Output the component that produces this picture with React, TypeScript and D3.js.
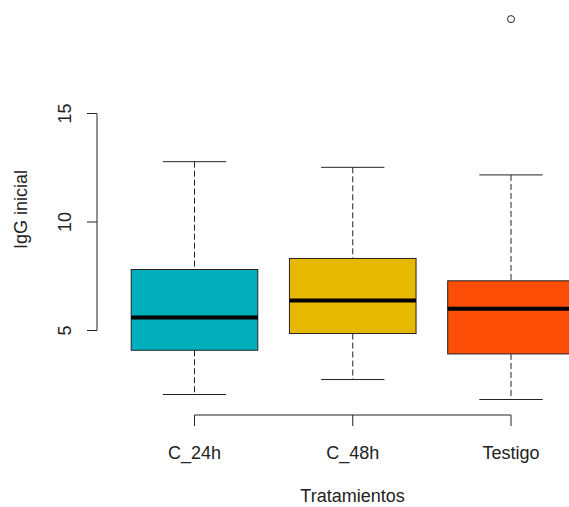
import React from "react";
import * as d3 from "d3";

const categories = ["C_24h", "C_48h", "Testigo"];
const lowerWhisker = [2.05, 2.74, 1.82];
const q1 = [4.09, 4.86, 3.92];
const median = [5.6, 6.38, 6.0];
const q3 = [7.81, 8.32, 7.29];
const upperWhisker = [12.78, 12.52, 12.17];
const outliers: { cat: string; value: number }[] = [{ cat: "Testigo", value: 19.35 }];
const colors = ["#00AFBB", "#E7B800", "#FC4E07"];
const yTicks = [5, 10, 15];

const W = 569;
const H = 507;

export default function App() {
  const x = d3.scaleLinear().domain([1, 3]).range([194.5, 511]);
  const y = d3.scaleLinear().domain([5, 15]).range([330.5, 113.5]);
  const step = x(2) - x(1);
  const boxW = step * 0.8;
  const capW = boxW / 2;
  const font = "Liberation Sans, Arial, sans-serif";
  const ink = "#222";
  const fs = 18;

  return (
    <svg width={W} height={H} style={{ position: "absolute", left: 0, top: 0, background: "#fff" }}>
      {/* Y axis */}
      <line x1={97} x2={97} y1={y(15)} y2={y(5)} stroke={ink} strokeWidth={1} />
      {yTicks.map((t) => (
        <g key={t}>
          <line x1={87} x2={97} y1={y(t)} y2={y(t)} stroke={ink} strokeWidth={1} />
          <text
            transform={`translate(${71},${y(t)}) rotate(-90)`}
            textAnchor="middle"
            fontFamily={font}
            fontSize={fs}
            fill={ink}
          >
            {t}
          </text>
        </g>
      ))}
      <text
        transform={`translate(${27},${209.5}) rotate(-90)`}
        textAnchor="middle"
        fontFamily={font}
        fontSize={fs}
        fill={ink}
      >
        IgG inicial
      </text>

      {/* X axis */}
      <line x1={x(1)} x2={x(3)} y1={415} y2={415} stroke={ink} strokeWidth={1} />
      {categories.map((c, i) => (
        <g key={c}>
          <line x1={x(i + 1)} x2={x(i + 1)} y1={415} y2={426} stroke={ink} strokeWidth={1} />
          <text x={x(i + 1)} y={458.5} textAnchor="middle" fontFamily={font} fontSize={fs} fill={ink}>
            {c}
          </text>
        </g>
      ))}
      <text x={352.5} y={502} textAnchor="middle" fontFamily={font} fontSize={fs} fill={ink}>
        Tratamientos
      </text>

      {/* Boxes */}
      {categories.map((c, i) => {
        const cx = x(i + 1);
        return (
          <g key={c}>
            <line x1={cx} x2={cx} y1={y(upperWhisker[i])} y2={y(q3[i])} stroke={ink} strokeDasharray="6,3" />
            <line x1={cx} x2={cx} y1={y(q1[i])} y2={y(lowerWhisker[i])} stroke={ink} strokeDasharray="6,3" />
            <line x1={cx - capW / 2} x2={cx + capW / 2} y1={y(upperWhisker[i])} y2={y(upperWhisker[i])} stroke={ink} />
            <line x1={cx - capW / 2} x2={cx + capW / 2} y1={y(lowerWhisker[i])} y2={y(lowerWhisker[i])} stroke={ink} />
            <rect
              x={cx - boxW / 2}
              y={y(q3[i])}
              width={boxW}
              height={y(q1[i]) - y(q3[i])}
              fill={colors[i]}
              stroke={ink}
              strokeWidth={1}
            />
            <line
              x1={cx - boxW / 2}
              x2={cx + boxW / 2}
              y1={y(median[i])}
              y2={y(median[i])}
              stroke="#000"
              strokeWidth={4}
            />
          </g>
        );
      })}
      {outliers.map((o, k) => (
        <circle
          key={k}
          cx={x(categories.indexOf(o.cat) + 1)}
          cy={y(o.value)}
          r={3.5}
          fill="none"
          stroke={ink}
          strokeWidth={1}
        />
      ))}
    </svg>
  );
}
